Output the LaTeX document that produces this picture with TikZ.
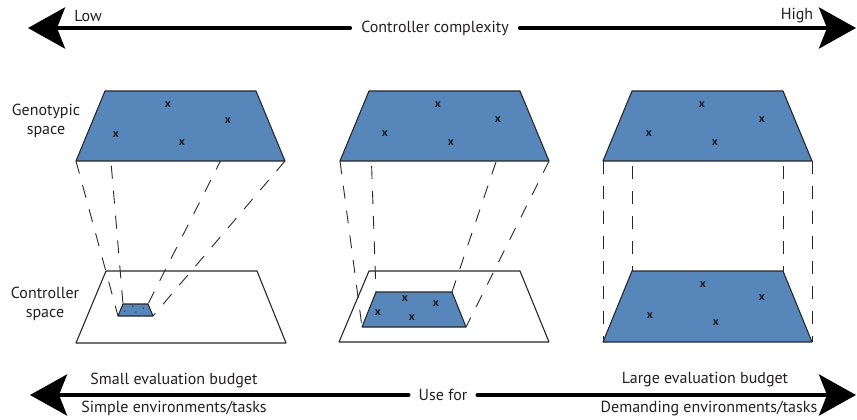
\documentclass[tikz,border=0pt]{standalone}
\usepackage{fontspec}
\setmainfont{PT Sans}
\usepackage{tikz}
\usetikzlibrary{arrows.meta}
\definecolor{spacecolor}{RGB}{86, 134, 186}
\definecolor{edgecolor}{RGB}{40, 40, 40}
\definecolor{textcolor}{RGB}{35, 31, 32}

\begin{document}
\begin{tikzpicture}[x=1pt, y=-1pt,
    bigarrow/.style={line width=4pt, line cap=round, -{Stealth[length=37pt, width=41pt, inset=8pt]}},
    proj/.style={edgecolor, line width=0.9pt, dash pattern=on 13pt off 12pt},
    plane/.style={draw=edgecolor, line width=1.1pt, line join=round},
    crossmark/.style={font=\fontsize{11.5}{11.5}\selectfont\bfseries, inner sep=0pt, text=textcolor},
    lbl/.style={font=\fontsize{16}{19}\selectfont, align=center, text=textcolor, inner sep=0pt}]
    \useasboundingbox (0,0) rectangle (857,420);

    % Complexity axis
    \node[lbl, inner xsep=11pt] (complexity) at (435,28) {Controller complexity};
    \coordinate (lowend) at (28,28);
    \coordinate (highend) at (856,28);
    \draw[bigarrow] (complexity.west) -- (lowend);
    \draw[bigarrow] (complexity.east) -- (highend);
    \node[lbl] (low) at (88,16) {Low};
    \node[lbl] (high) at (797,16) {High};

    % Row labels
    \node[lbl] (genotypic) at (46,121) {Genotypic\\space};
    \node[lbl] (controller) at (45,304) {Controller\\space};

    % Left panel
    \coordinate (g1a) at (105,91); \coordinate (g1b) at (256,91);
    \coordinate (g1c) at (285,161); \coordinate (g1d) at (76,161);
    \coordinate (c1a) at (106,271); \coordinate (c1b) at (257,271);
    \coordinate (c1c) at (286,343); \coordinate (c1d) at (76,343);
    \coordinate (s1a) at (123,304); \coordinate (s1b) at (148,304);
    \coordinate (s1c) at (153,316); \coordinate (s1d) at (118,316);
    \draw[proj] (g1a) -- (s1a);
    \draw[proj] (g1b) -- (s1b);
    \draw[proj] (g1c) -- (s1c);
    \draw[proj] (g1d) -- (s1d);
    \draw[plane, fill=spacecolor] (g1a) -- (g1b) -- (g1c) -- (g1d) -- cycle;
    \draw[plane] (c1a) -- (c1b) -- (c1c) -- (c1d) -- cycle;
    \draw[plane, fill=spacecolor] (s1a) -- (s1b) -- (s1c) -- (s1d) -- cycle;
    \node[crossmark] at (168,105) {x};
    \node[crossmark] at (228,121) {x};
    \node[crossmark] at (116,135) {x};
    \node[crossmark] at (182,143) {x};
    \node[crossmark, font=\fontsize{3}{3}\selectfont\bfseries] at (133,306.5) {x};
    \node[crossmark, font=\fontsize{3}{3}\selectfont\bfseries] at (143.5,309) {x};
    \node[crossmark, font=\fontsize{3}{3}\selectfont\bfseries] at (125,311.5) {x};
    \node[crossmark, font=\fontsize{3}{3}\selectfont\bfseries] at (136,313) {x};

    % Middle panel
    \coordinate (g2a) at (369,91); \coordinate (g2b) at (520,91);
    \coordinate (g2c) at (549,161); \coordinate (g2d) at (340,161);
    \coordinate (c2a) at (369,271); \coordinate (c2b) at (520,271);
    \coordinate (c2c) at (549,342); \coordinate (c2d) at (339,342);
    \coordinate (s2a) at (376,292); \coordinate (s2b) at (452,292);
    \coordinate (s2c) at (466,327); \coordinate (s2d) at (362,327);
    \draw[proj] (g2a) -- (s2a);
    \draw[proj] (g2b) -- (s2b);
    \draw[proj] (g2c) -- (s2c);
    \draw[proj] (g2d) -- (s2d);
    \draw[plane, fill=spacecolor] (g2a) -- (g2b) -- (g2c) -- (g2d) -- cycle;
    \draw[plane] (c2a) -- (c2b) -- (c2c) -- (c2d) -- cycle;
    \draw[plane, fill=spacecolor] (s2a) -- (s2b) -- (s2c) -- (s2d) -- cycle;
    \node[crossmark] at (438,105) {x};
    \node[crossmark] at (498,120) {x};
    \node[crossmark] at (385,134) {x};
    \node[crossmark] at (451,143) {x};
    \node[crossmark] at (405,299) {x};
    \node[crossmark] at (436,304) {x};
    \node[crossmark] at (378,313) {x};
    \node[crossmark] at (412,318) {x};

    % Right panel
    \coordinate (g3a) at (632,91); \coordinate (g3b) at (783,91);
    \coordinate (g3c) at (812,161); \coordinate (g3d) at (603,161);
    \coordinate (s3a) at (632,271); \coordinate (s3b) at (783,271);
    \coordinate (s3c) at (812,342); \coordinate (s3d) at (603,342);
    \draw[proj] (g3a) -- (s3a);
    \draw[proj] (g3b) -- (s3b);
    \draw[proj] (g3c) -- (s3c);
    \draw[proj] (g3d) -- (s3d);
    \draw[plane, fill=spacecolor] (g3a) -- (g3b) -- (g3c) -- (g3d) -- cycle;
    \draw[plane, fill=spacecolor] (s3a) -- (s3b) -- (s3c) -- (s3d) -- cycle;
    \node[crossmark] at (702,105) {x};
    \node[crossmark] at (762,120) {x};
    \node[crossmark] at (649,134) {x};
    \node[crossmark] at (715,143) {x};
    \node[crossmark] at (703,285) {x};
    \node[crossmark] at (762,298) {x};
    \node[crossmark] at (650,316) {x};
    \node[crossmark] at (716,323) {x};

    % Use-for axis
    \node[lbl, inner xsep=10pt] (usefor) at (443,395) {Use for};
    \coordinate (smallend) at (30,395);
    \coordinate (largeend) at (856,395);
    \draw[bigarrow] (usefor.west) -- (smallend);
    \draw[bigarrow] (usefor.east) -- (largeend);
    \node[lbl] (smallbudget) at (174,380) {Small evaluation budget};
    \node[lbl] (simpletasks) at (174,408) {Simple environments/tasks};
    \node[lbl] (largebudget) at (705,380) {Large evaluation budget};
    \node[lbl] (demandingtasks) at (709,408) {Demanding environments/tasks};
\end{tikzpicture}
\end{document}
